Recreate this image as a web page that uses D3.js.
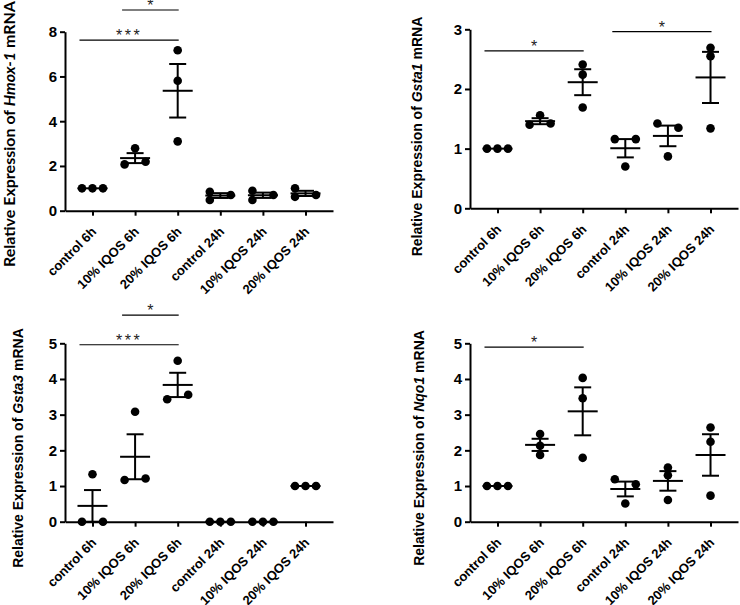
<!DOCTYPE html>
<html>
<head>
<meta charset="utf-8">
<script src="https://cdn.jsdelivr.net/npm/d3@7"></script>
<style>
  html, body { margin: 0; padding: 0; background: #fff; }
  svg { display: block; }
</style>
</head>
<body>
<svg id="chart" width="740" height="605"></svg>
<script>
// ---------------- DATA ----------------
const categories = ["control 6h", "10% IQOS 6h", "20% IQOS 6h", "control 24h", "10% IQOS 24h", "20% IQOS 24h"];

// replicate values per group (data order)
const hmox1Values = [
  [1, 1, 1],
  [2.07, 2.19, 2.79],
  [7.17, 5.81, 3.10],
  [0.48, 0.70, 0.85],
  [0.48, 0.70, 0.89],
  [0.62, 0.70, 1.00]
];
const gsta1Values = [
  [1, 1, 1],
  [1.40, 1.42, 1.56],
  [2.41, 2.24, 1.69],
  [1.16, 1.16, 0.70],
  [1.42, 1.35, 0.87],
  [2.69, 2.55, 1.34]
];
const gsta3Values = [
  [0, 1.33, 0],
  [1.17, 3.08, 1.21],
  [3.43, 4.51, 3.56],
  [0, 0, 0],
  [0, 0, 0],
  [1, 1, 1]
];
const nqo1Values = [
  [1, 1, 1],
  [2.46, 2.13, 1.87],
  [4.03, 3.46, 1.79],
  [1.19, 1.05, 0.51],
  [1.52, 1.30, 0.61],
  [2.64, 2.24, 0.73]
];

const hmox1Ticks = [0, 2, 4, 6, 8];
const gsta1Ticks = [0, 1, 2, 3];
const gsta3Ticks = [0, 1, 2, 3, 4, 5];
const nqo1Ticks = [0, 1, 2, 3, 4, 5];

const hmox1Sig = [
  { from: "control 6h", to: "20% IQOS 6h", level: 7.62, label: "***" },
  { from: "10% IQOS 6h", to: "20% IQOS 6h", level: 8.97, label: "*" }
];
const gsta1Sig = [
  { from: "control 6h", to: "20% IQOS 6h", level: 2.64, label: "*" },
  { from: "control 24h", to: "20% IQOS 24h", level: 2.96, label: "*" }
];
const gsta3Sig = [
  { from: "control 6h", to: "20% IQOS 6h", level: 4.96, label: "***" },
  { from: "10% IQOS 6h", to: "20% IQOS 6h", level: 5.79, label: "*" }
];
const nqo1Sig = [
  { from: "control 6h", to: "20% IQOS 6h", level: 4.89, label: "*" }
];

const genes = ["Hmox-1", "Gsta1", "Gsta3", "Nqo1"];

// ---------------- LAYOUT ----------------
const panels = [
  { gene: genes[0], values: hmox1Values, ticks: hmox1Ticks, sig: hmox1Sig, max: 8,
    left: 65, top: 31.7, bottom: 210.7, labelX: 9, labelY: 134, labelFont: "Lato, 'Open Sans', sans-serif", labelSize: 16 },
  { gene: genes[1], values: gsta1Values, ticks: gsta1Ticks, sig: gsta1Sig, max: 3,
    left: 470, top: 29.3, bottom: 208.3, labelX: 417, labelY: 136.5, labelFont: "'Liberation Sans', Arial, sans-serif", labelSize: 14 },
  { gene: genes[2], values: gsta3Values, ticks: gsta3Ticks, sig: gsta3Sig, max: 5,
    left: 65, top: 343.3, bottom: 521.7, labelX: 18, labelY: 448, labelFont: "'Liberation Sans', Arial, sans-serif", labelSize: 14 },
  { gene: genes[3], values: nqo1Values, ticks: nqo1Ticks, sig: nqo1Sig, max: 5,
    left: 470, top: 343.3, bottom: 521.7, labelX: 419, labelY: 448, labelFont: "'Liberation Sans', Arial, sans-serif", labelSize: 14 }
];

const axisLen = 268;
const dotR = 4.3;
const colStep = 10.5;
const overlapT = 7.0;
const meanHalf = 15;
const capHalf = 8.5;
const FONT = "'Liberation Sans', Arial, Helvetica, sans-serif";

const svg = d3.select("#chart");

function spread(vals, y) {
  const pts = vals.map((v, i) => ({ v, i, py: y(v), off: 0 }));
  const sorted = [...pts].sort((a, b) => a.py - b.py);
  let comp = 0;
  sorted.forEach((p, k) => {
    if (k > 0 && p.py - sorted[k - 1].py >= overlapT) comp++;
    p.comp = comp;
  });
  const groups = d3.group(pts, p => p.comp);
  const cols = [-1, 1, 0, -2, 2];
  groups.forEach(g => {
    if (g.length === 1) { g[0].off = 0; return; }
    const placed = [];
    g.sort((a, b) => a.i - b.i).forEach(p => {
      for (const c of cols) {
        const clash = placed.some(q => q.col === c && Math.abs(q.py - p.py) < overlapT);
        if (!clash) { p.col = c; p.off = c * colStep; placed.push(p); break; }
      }
    });
  });
  return pts;
}

panels.forEach(P => {
  const g = svg.append("g");
  const x = d3.scalePoint().domain(categories).range([P.left, P.left + axisLen]).padding(0.645);
  const y = d3.scaleLinear().domain([0, P.max]).range([P.bottom, P.top]);

  // y axis
  const ya = g.append("g")
    .attr("transform", `translate(${P.left},0)`)
    .call(d3.axisLeft(y).tickValues(P.ticks).tickFormat(d3.format("d")).tickSize(5).tickSizeOuter(0).tickPadding(3));
  ya.select(".domain").attr("stroke", "#000").attr("stroke-width", 2);
  ya.selectAll(".tick line").attr("stroke", "#000").attr("stroke-width", 2);
  ya.selectAll(".tick text").attr("font-family", FONT).attr("font-size", 15).attr("font-weight", "bold").attr("fill", "#000");

  // x axis
  const xa = g.append("g")
    .attr("transform", `translate(0,${P.bottom})`)
    .call(d3.axisBottom(x).tickSize(5).tickSizeOuter(0));
  xa.select(".domain").attr("stroke", "#000").attr("stroke-width", 2);
  xa.selectAll(".tick line").attr("stroke", "#000").attr("stroke-width", 2);
  xa.selectAll(".tick text")
    .attr("font-family", FONT).attr("font-size", 13).attr("font-weight", "bold").attr("fill", "#000")
    .attr("text-anchor", "end").attr("x", 0).attr("y", 0).attr("dy", "0.35em")
    .attr("transform", "translate(1,18.5) rotate(-45)");

  // y label
  const lab = g.append("text")
    .attr("transform", `translate(${P.labelX},${P.labelY}) rotate(-90)`)
    .attr("text-anchor", "middle").attr("dy", "0.35em")
    .attr("font-family", P.labelFont).attr("font-size", P.labelSize).attr("font-weight", "bold").attr("fill", "#000");
  lab.append("tspan").text("Relative Expression of ");
  lab.append("tspan").attr("font-style", "italic").text(P.gene);
  lab.append("tspan").text(" mRNA");

  // data points + error bars
  P.values.forEach((vals, gi) => {
    const cat = categories[gi];
    const cx = x(cat);
    const pts = spread(vals, y);
    g.append("g").selectAll("circle").data(pts).join("circle")
      .attr("cx", d => cx + d.off).attr("cy", d => d.py).attr("r", dotR).attr("fill", "#000");

    const m = d3.mean(vals);
    const sem = d3.deviation(vals) / Math.sqrt(vals.length);
    const eb = g.append("g").attr("stroke", "#000").attr("stroke-width", 2).attr("fill", "none");
    eb.append("line").attr("x1", cx - meanHalf).attr("x2", cx + meanHalf).attr("y1", y(m)).attr("y2", y(m));
    if (sem > 0) {
      eb.append("line").attr("x1", cx).attr("x2", cx).attr("y1", y(m - sem)).attr("y2", y(m + sem));
      eb.append("line").attr("x1", cx - capHalf).attr("x2", cx + capHalf).attr("y1", y(m + sem)).attr("y2", y(m + sem));
      eb.append("line").attr("x1", cx - capHalf).attr("x2", cx + capHalf).attr("y1", y(m - sem)).attr("y2", y(m - sem));
    }
  });

  // significance bars
  P.sig.forEach(s => {
    const x1 = x(s.from) - 13, x2 = x(s.to) + 1;
    const yy = y(s.level);
    g.append("line").attr("x1", x1).attr("x2", x2).attr("y1", yy).attr("y2", yy)
      .attr("stroke", "#000").attr("stroke-width", 1.2);
    g.append("text").attr("x", (x1 + x2) / 2).attr("y", yy + 1)
      .attr("text-anchor", "middle").attr("font-family", FONT).attr("font-size", 16)
      .attr("letter-spacing", s.label.length > 1 ? 2.5 : 0)
      .attr("fill", "#222").text(s.label);
  });
});
</script>
</body>
</html>
